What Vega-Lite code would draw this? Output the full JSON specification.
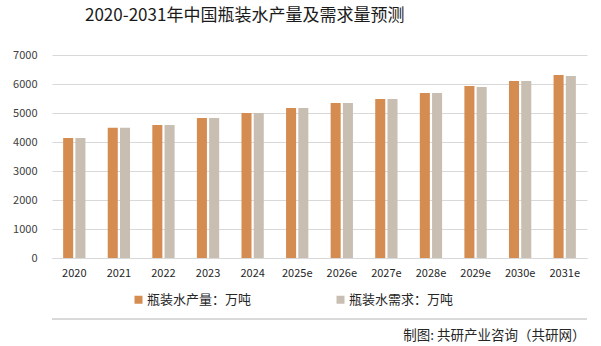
{
  "$schema": "https://vega.github.io/schema/vega-lite/v6.json",
  "width": 535,
  "height": 203,
  "autosize": {"type": "none"},
  "padding": {"left": 52, "top": 55, "right": 14, "bottom": 88},
  "background": "white",
  "config": {
    "font": "Noto Sans CJK SC",
    "view": {"stroke": null}
  },
  "title": {
    "text": "2020-2031年中国瓶装水产量及需求量预测",
    "fontSize": 17,
    "fontWeight": "normal",
    "color": "#1a1a1a",
    "anchor": "start",
    "frame": "group",
    "dx": 33,
    "offset": 24,
    "font": "Noto Sans CJK SC"
  },
  "data": {
    "values": [
      {"year": "2020", "series": "瓶装水产量：万吨", "value": 4140},
      {"year": "2020", "series": "瓶装水需求：万吨", "value": 4140},
      {"year": "2021", "series": "瓶装水产量：万吨", "value": 4490},
      {"year": "2021", "series": "瓶装水需求：万吨", "value": 4490},
      {"year": "2022", "series": "瓶装水产量：万吨", "value": 4590},
      {"year": "2022", "series": "瓶装水需求：万吨", "value": 4590},
      {"year": "2023", "series": "瓶装水产量：万吨", "value": 4830},
      {"year": "2023", "series": "瓶装水需求：万吨", "value": 4830},
      {"year": "2024", "series": "瓶装水产量：万吨", "value": 5000},
      {"year": "2024", "series": "瓶装水需求：万吨", "value": 5000},
      {"year": "2025e", "series": "瓶装水产量：万吨", "value": 5175},
      {"year": "2025e", "series": "瓶装水需求：万吨", "value": 5175},
      {"year": "2026e", "series": "瓶装水产量：万吨", "value": 5347},
      {"year": "2026e", "series": "瓶装水需求：万吨", "value": 5347},
      {"year": "2027e", "series": "瓶装水产量：万吨", "value": 5485},
      {"year": "2027e", "series": "瓶装水需求：万吨", "value": 5485},
      {"year": "2028e", "series": "瓶装水产量：万吨", "value": 5692},
      {"year": "2028e", "series": "瓶装水需求：万吨", "value": 5692},
      {"year": "2029e", "series": "瓶装水产量：万吨", "value": 5933},
      {"year": "2029e", "series": "瓶装水需求：万吨", "value": 5898},
      {"year": "2030e", "series": "瓶装水产量：万吨", "value": 6105},
      {"year": "2030e", "series": "瓶装水需求：万吨", "value": 6105},
      {"year": "2031e", "series": "瓶装水产量：万吨", "value": 6311},
      {"year": "2031e", "series": "瓶装水需求：万吨", "value": 6277}
    ]
  },
  "layer": [
    {
      "mark": {"type": "bar"},
      "encoding": {
        "x": {
          "field": "year",
          "type": "nominal",
          "sort": null,
          "scale": {"paddingInner": 0.5, "paddingOuter": 0.25},
          "axis": {
            "title": "制图: 共研产业咨询（共研网）",
            "titleFontSize": 13.5,
            "titleFontWeight": "normal",
            "titleColor": "#262626",
            "titleAnchor": "end",
            "titleAlign": "right",
            "titleBaseline": "middle",
            "titleX": 533,
            "titleY": 77,
            "labelAngle": 0,
            "labelFontSize": 11,
            "labelColor": "#262626",
            "labelPadding": 9,
            "ticks": false,
            "domainColor": "#d9d9d9",
            "grid": false
          }
        },
        "xOffset": {
          "field": "series",
          "type": "nominal",
          "sort": ["瓶装水产量：万吨", "瓶装水需求：万吨"],
          "scale": {"paddingInner": 0.18}
        },
        "y": {
          "field": "value",
          "type": "quantitative",
          "scale": {"domain": [0, 7000], "nice": false},
          "axis": {
            "title": null,
            "values": [0, 1000, 2000, 3000, 4000, 5000, 6000, 7000],
            "format": "d",
            "labelFontSize": 11,
            "labelColor": "#404040",
            "labelPadding": 15,
            "ticks": false,
            "domain": false,
            "gridColor": "#d9d9d9"
          }
        },
        "color": {
          "field": "series",
          "type": "nominal",
          "sort": ["瓶装水产量：万吨", "瓶装水需求：万吨"],
          "scale": {"range": ["#D58C50", "#C8BEB2"]},
          "legend": {
            "title": null,
            "orient": "none",
            "direction": "horizontal",
            "legendX": 80,
            "legendY": 238,
            "symbolType": "square",
            "symbolSize": 64,
            "symbolStrokeWidth": 0,
            "labelFontSize": 13,
            "labelColor": "#262626",
            "labelOffset": 2,
            "columnPadding": 82,
            "labelLimit": 200
          }
        }
      }
    },
    {
      "mark": {"type": "rule", "color": "#d9d9d9", "strokeWidth": 1},
      "encoding": {
        "y": {
          "datum": -2100,
          "type": "quantitative",
          "axis": {
            "title": null,
            "values": [0, 1000, 2000, 3000, 4000, 5000, 6000, 7000],
            "format": "d",
            "labelFontSize": 11,
            "labelColor": "#404040",
            "labelPadding": 15,
            "ticks": false,
            "domain": false,
            "gridColor": "#d9d9d9"
          }
        }
      }
    }
  ]
}
